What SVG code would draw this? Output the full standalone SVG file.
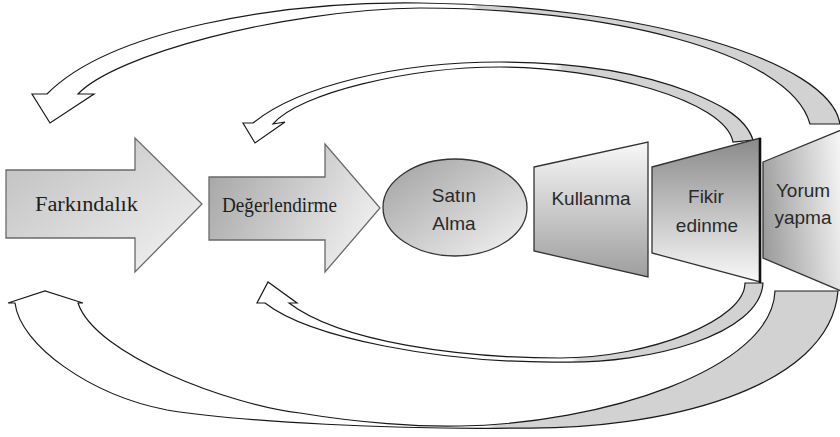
<svg xmlns="http://www.w3.org/2000/svg" width="840" height="437" viewBox="0 0 840 437">
<defs>
<linearGradient id="gFark" x1="0" y1="0" x2="1" y2="1"><stop offset="0" stop-color="#bdbdbd"/><stop offset="1" stop-color="#f4f4f4"/></linearGradient>
<linearGradient id="gDeg" x1="0" y1="0.3" x2="1" y2="0.7"><stop offset="0" stop-color="#a9a9a9"/><stop offset="1" stop-color="#f2f2f2"/></linearGradient>
<linearGradient id="gEll" x1="0" y1="0" x2="1" y2="1"><stop offset="0" stop-color="#a0a0a0"/><stop offset="1" stop-color="#f4f4f4"/></linearGradient>
<linearGradient id="gKul" x1="0" y1="0" x2="0" y2="1"><stop offset="0" stop-color="#f8f8f8"/><stop offset="1" stop-color="#9e9e9e"/></linearGradient>
<linearGradient id="gFik" x1="0" y1="0" x2="0" y2="1"><stop offset="0" stop-color="#8a8a8a"/><stop offset="1" stop-color="#f8f8f8"/></linearGradient>
<linearGradient id="gYor" x1="0" y1="0.6" x2="1" y2="0.4"><stop offset="0" stop-color="#9c9c9c"/><stop offset="1" stop-color="#f6f6f6"/></linearGradient>
<linearGradient id="gA1" gradientUnits="userSpaceOnUse" x1="0" y1="0" x2="840" y2="0"><stop offset="0.56" stop-color="#ffffff"/><stop offset="0.57" stop-color="#d2d2d2"/></linearGradient>
<linearGradient id="gA2" gradientUnits="userSpaceOnUse" x1="0" y1="0" x2="840" y2="0"><stop offset="0.66" stop-color="#ffffff"/><stop offset="0.67" stop-color="#d2d2d2"/></linearGradient>
<linearGradient id="gA3" gradientUnits="userSpaceOnUse" x1="0" y1="0" x2="840" y2="0"><stop offset="0.68" stop-color="#ffffff"/><stop offset="0.69" stop-color="#d2d2d2"/></linearGradient>
<linearGradient id="gA4" gradientUnits="userSpaceOnUse" x1="0" y1="0" x2="840" y2="0"><stop offset="0.58" stop-color="#ffffff"/><stop offset="0.59" stop-color="#d2d2d2"/></linearGradient>
</defs>
<style>
.arc{stroke:#1a1a1a;stroke-width:1.2;stroke-linejoin:miter}
.blk{stroke:#6a6a6a;stroke-width:1.3}
.shape{stroke:#333;stroke-width:1.3}
.serif{font-family:"Liberation Serif","Times New Roman",serif;font-size:20px;fill:#1e1e1e}
.sans{font-family:"Liberation Sans",Arial,sans-serif;font-size:19px;fill:#2a2a2a;text-anchor:middle}
</style>
<g id="connectors">
<path id="loop-outer-top" class="arc" fill="url(#gA1)" d="M840,124 C830,60 640,5 420,3 C280,1 110,30 47,94 L32,94 L50,123 L94,94 L78,94 C115,55 280,10 420,8 C600,8 790,50 810,124 Z"/>
<path id="loop-inner-top" class="arc" fill="url(#gA2)" d="M753,140 C745,115 714,102 690,92 C631,69 563,62 500,62 C400,62 300,85 253,123 L243,123 L255,143 L285,122 L273,124 C299,93 410,67 500,67 C600,67 725,100 733,142 Z"/>
<path id="loop-inner-bottom" class="arc" fill="url(#gA3)" d="M763,283 C760,335 650,364 560,362 C440,363 310,338 265,303 L257,303 L268,282 L297,303 L289,303 C340,342 460,358 560,358 C650,358 745,320 745,283 Z"/>
<path id="loop-outer-bottom" class="arc" fill="url(#gA4)" d="M838,291 C830,390 660,430 520,428 C400,430 240,422 167,410 C90,395 20,345 15,303 L8,303 L45,291 L83,303 L78,303 C95,355 230,405 300,413 C360,423 420,427 460,426 C600,424 772,370 775,291 Z"/>
</g>
<g id="farkindalik">
<polygon class="blk" fill="url(#gFark)" points="6,170 135,170 135,138 202,204 135,272 135,238 6,238"/>
<text class="serif" x="35" y="211" textLength="103" lengthAdjust="spacingAndGlyphs">Farkındalık</text>
</g>
<g id="degerlendirme">
<polygon class="blk" fill="url(#gDeg)" points="209,177 325,177 325,144 380,208 325,272 325,240 209,240"/>
<text class="serif" x="222" y="212" textLength="115" lengthAdjust="spacingAndGlyphs">Değerlendirme</text>
</g>
<g id="satin-alma">
<ellipse class="shape" fill="url(#gEll)" cx="455" cy="207.5" rx="72" ry="48.5"/>
<text class="sans" x="454" y="202">Satın</text>
<text class="sans" x="454" y="230">Alma</text>
</g>
<g id="kullanma">
<polygon class="shape" fill="url(#gKul)" points="534,167 648,142 648,277 534,251"/>
<text class="sans" x="591" y="205">Kullanma</text>
</g>
<g id="yorum-yapma">
<polygon class="shape" fill="url(#gYor)" points="763,162 846,128 846,293 763,258"/>
<text class="sans" x="803" y="197">Yorum</text>
<text class="sans" x="803" y="224">yapma</text>
</g>
<g id="fikir-edinme">
<polygon class="shape" fill="url(#gFik)" points="652,167 760,138 760,282 652,253"/>
<line x1="760" y1="138" x2="760" y2="283" stroke="#111" stroke-width="2.6"/>
<text class="sans" x="706" y="203">Fikir</text>
<text class="sans" x="707" y="232">edinme</text>
</g>
</svg>
